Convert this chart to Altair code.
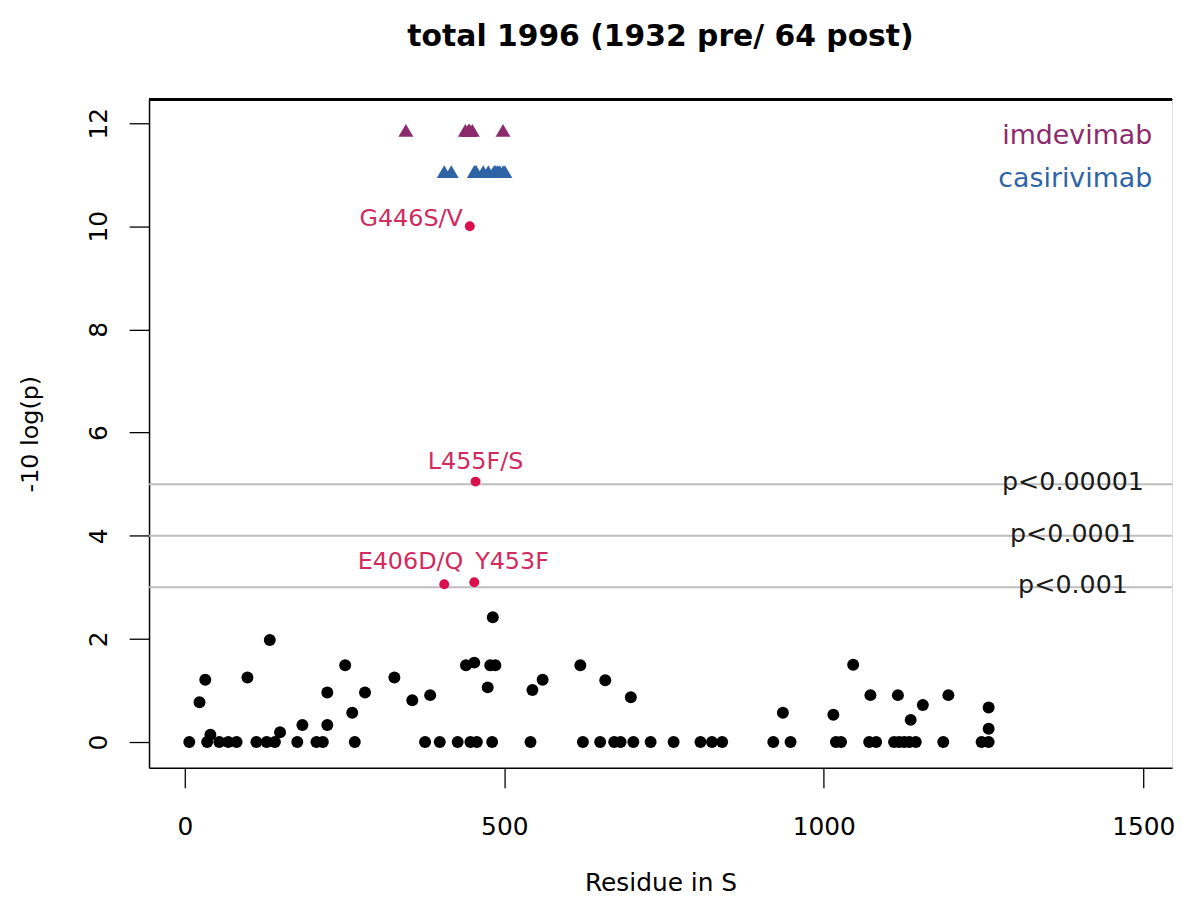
import altair as alt
import pandas as pd

# ---- data ----
bg_x = [7, 23, 32, 35, 40, 54, 68, 81, 98, 112, 128, 141, 133, 149, 176, 184,
        206, 216, 223, 223, 251, 262, 266, 282, 328, 356, 384, 376, 399,
        427, 447, 457, 481, 541, 623, 650, 672, 682, 702, 729, 765, 807, 825, 841,
        482, 440, 453, 478, 486, 474, 544, 560, 619, 658, 698,
        921, 948, 1019, 1027, 1071, 1082, 1110, 1118, 1126, 1134, 1144, 1187, 1247, 1258,
        936, 1015, 1046, 1073, 1116, 1155, 1136, 1195, 1258, 1258]
bg_y = [0, 0.77, 1.21, 0, 0.14, 0, 0, 0, 1.25, 0, 0, 0, 1.98, 0.19, 0, 0.33,
        0, 0, 0.33, 0.96, 1.49, 0.57, 0, 0.96, 1.25, 0.81, 0.91, 0, 0,
        0, 0, 0, 0, 0, 0, 0, 0, 0, 0, 0, 0, 0, 0, 0,
        2.42, 1.49, 1.54, 1.49, 1.49, 1.06, 1.01, 1.21, 1.49, 1.20, 0.87,
        0, 0, 0, 0, 0, 0, 0, 0, 0, 0, 0, 0, 0, 0,
        0.57, 0.53, 1.50, 0.91, 0.91, 0.72, 0.43, 0.91, 0.67, 0.26]

mut_x = [446, 455, 406, 453]
mut_y = [10.0, 5.05, 3.06, 3.10]
mut_labels = ["G446S/V", "L455F/S", "E406D/Q", "Y453F"]

imdevimab_x = [346, 439, 444, 445, 446, 450, 498]
casirivimab_x = [406, 417, 453, 455, 456, 467, 475, 484, 486, 487, 490, 493, 498, 501]
ab_y = {"imdevimab": 11.86, "casirivimab": 11.06}
ab_names = ["imdevimab", "casirivimab"]
legend_y = [11.75, 10.92]
legend_x = 1514

thresh_y = [5, 4, 3]
thresh_labels = ["p<0.00001", "p<0.0001", "p<0.001"]
thresh_label_x = 1390

title_text = "total 1996 (1932 pre/ 64 post)"
x_ticks = [0, 500, 1000, 1500]
y_ticks = [0, 2, 4, 6, 8, 10, 12]

# ---- styles ----
FONT = "DejaVu Sans"
W, H = 1030, 673
PURPLE = "#8B2A6C"
BLUE = "#2E64A6"
RED = "#DC0F4E"
RED_TXT = "#D02A5E"
label_offsets = {"G446S/V": (-7, -7, "right"), "L455F/S": (0, -20, "center"),
                 "E406D/Q": (-34, -22, "center"), "Y453F": (38, -20, "center")}

xs = alt.Scale(domain=[-56, 1545], nice=False, zero=False)
ys = alt.Scale(domain=[-0.5, 12.46], nice=False, zero=False)

def X(field):
    return alt.X(field, type="quantitative", scale=xs,
                 axis=alt.Axis(values=x_ticks, title="Residue in S", grid=False, format="d",
                               tickSize=20, tickWidth=1.3, tickColor="black",
                               domainColor="black", domainWidth=1.5,
                               labelFont=FONT, labelFontSize=25, labelColor="black",
                               labelPadding=27, labelFlush=False,
                               titleFont=FONT, titleFontSize=25, titleFontWeight="normal",
                               titleColor="black", titleY=116, titleBaseline="middle"))

def Y(field):
    return alt.Y(field, type="quantitative", scale=ys,
                 axis=alt.Axis(values=y_ticks, title="-10 log(p)", grid=False, format="d",
                               tickSize=20, tickWidth=1.3, tickColor="black",
                               domainColor="black", domainWidth=1.5,
                               labelFont=FONT, labelFontSize=25, labelColor="black",
                               labelAngle=-90, labelAlign="center", labelBaseline="middle",
                               labelPadding=31, labelFlush=False,
                               titleFont=FONT, titleFontSize=24, titleFontWeight="normal",
                               titleColor="black", titleX=-119, titleBaseline="middle",
                               titleAngle=-90))

bg = pd.DataFrame({"x": bg_x, "y": bg_y})
mut = pd.DataFrame({"x": mut_x, "y": mut_y, "label": mut_labels})
tri = pd.DataFrame({
    "x": imdevimab_x + casirivimab_x,
    "ab": ["imdevimab"] * len(imdevimab_x) + ["casirivimab"] * len(casirivimab_x),
})
tri["y"] = tri["ab"].map(ab_y)
leg = pd.DataFrame({"ab": ab_names, "y": legend_y, "x": [legend_x] * 2})
th = pd.DataFrame({"y": thresh_y, "label": thresh_labels, "x": [thresh_label_x] * 3})

color_scale = alt.Scale(domain=ab_names, range=[PURPLE, BLUE])

rules = alt.Chart(th).mark_rule(color="#BEBEBE", strokeWidth=2).encode(y=Y("y"))
rule_txt = alt.Chart(th).mark_text(font=FONT, fontSize=25.5, color="#1a1a1a",
                                   baseline="middle", dy=-2).encode(
    x=X("x"), y=Y("y"), text="label:N")

pts = alt.Chart(bg).mark_circle(color="black", opacity=1, size=145).encode(x=X("x"), y=Y("y"))
red_pts = alt.Chart(mut).mark_circle(color=RED, opacity=1, size=100).encode(x=X("x"), y=Y("y"))

red_labels = []
for lab in mut_labels:
    dx, dy, al = label_offsets[lab]
    red_labels.append(
        alt.Chart(mut).transform_filter(alt.datum.label == lab).mark_text(
            font=FONT, fontSize=24, color=RED_TXT, align=al, baseline="middle",
            dx=dx, dy=dy).encode(x=X("x"), y=Y("y"), text="label:N"))

tris = alt.Chart(tri).mark_point(shape="M-1,0.85L0,-0.85L1,0.85Z", filled=True,
                                 opacity=1, size=225, strokeWidth=0).encode(
    x=X("x"), y=Y("y"),
    color=alt.Color("ab:N", scale=color_scale, legend=None))

leg_txt = alt.Chart(leg).mark_text(font=FONT, fontSize=27, align="right",
                                   baseline="middle").encode(
    x=X("x"), y=Y("y"), text="ab:N",
    color=alt.Color("ab:N", scale=color_scale, legend=None))

top_border = alt.Chart(bg).mark_rule(color="black", strokeWidth=1.5).encode(
    x=alt.value(0), x2=alt.value(W), y=alt.value(0))

chart = alt.layer(rules, rule_txt, pts, red_pts, *red_labels, tris, leg_txt, top_border).properties(
    width=W, height=H,
    autosize=alt.AutoSizeParams(type="none"),
    padding={"left": 142, "top": 89, "right": 2, "bottom": 130},
    title=alt.TitleParams(title_text, font=FONT, fontSize=30, fontWeight="bold",
                          color="black", anchor="middle", baseline="middle", offset=32),
).configure_view(stroke=None).configure(background="white")

chart.save("out.html", embed_options={"renderer": "svg", "actions": False})
